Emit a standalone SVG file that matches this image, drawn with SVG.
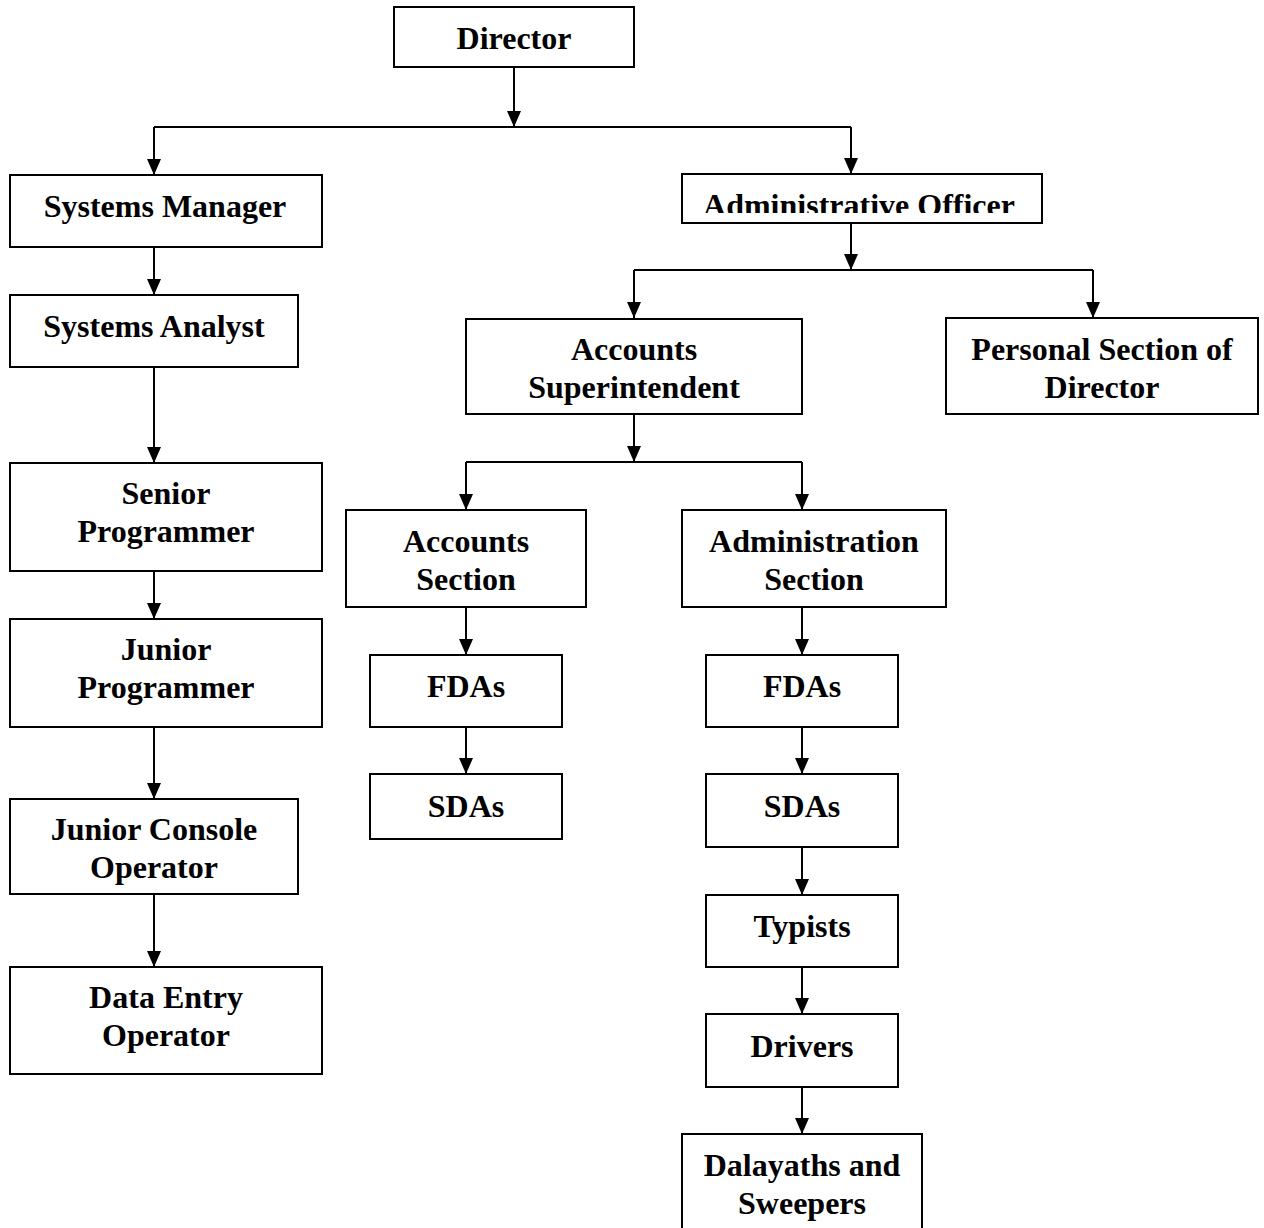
<svg xmlns="http://www.w3.org/2000/svg" width="1264" height="1228" viewBox="0 0 1264 1228">
<style>
.box{fill:#fff;stroke:#000;stroke-width:2}
.t{font-family:"Liberation Serif","Times New Roman",serif;font-weight:bold;font-size:32px;fill:#000;text-anchor:middle}
.c{fill:none;stroke:#000;stroke-width:2}
</style>
<defs>
<marker id="ah" markerUnits="userSpaceOnUse" markerWidth="16" markerHeight="14" refX="16" refY="7" orient="auto">
<path d="M0,0 L16,7 L0,14 z" fill="#000"/>
</marker>
<clipPath id="aoclip"><rect x="682" y="174" width="363" height="39"/></clipPath>
</defs>
<rect width="1264" height="1228" fill="#fff"/>
<g id="connectors">
<path class="c" d="M514,67 V127" marker-end="url(#ah)"/>
<path class="c" d="M154,127 H851"/>
<path class="c" d="M154,127 V175" marker-end="url(#ah)"/>
<path class="c" d="M851,127 V174" marker-end="url(#ah)"/>
<path class="c" d="M154,247 V295" marker-end="url(#ah)"/>
<path class="c" d="M154,367 V463" marker-end="url(#ah)"/>
<path class="c" d="M154,571 V619" marker-end="url(#ah)"/>
<path class="c" d="M154,727 V799" marker-end="url(#ah)"/>
<path class="c" d="M154,894 V967" marker-end="url(#ah)"/>
<path class="c" d="M851,223 V270" marker-end="url(#ah)"/>
<path class="c" d="M634,270 H1093"/>
<path class="c" d="M634,270 V318" marker-end="url(#ah)"/>
<path class="c" d="M1093,270 V318" marker-end="url(#ah)"/>
<path class="c" d="M634,414 V462" marker-end="url(#ah)"/>
<path class="c" d="M466,462 H802"/>
<path class="c" d="M466,462 V510" marker-end="url(#ah)"/>
<path class="c" d="M802,462 V510" marker-end="url(#ah)"/>
<path class="c" d="M466,607 V655" marker-end="url(#ah)"/>
<path class="c" d="M802,607 V655" marker-end="url(#ah)"/>
<path class="c" d="M466,727 V774" marker-end="url(#ah)"/>
<path class="c" d="M802,727 V774" marker-end="url(#ah)"/>
<path class="c" d="M802,847 V895" marker-end="url(#ah)"/>
<path class="c" d="M802,967 V1014" marker-end="url(#ah)"/>
<path class="c" d="M802,1087 V1134" marker-end="url(#ah)"/>
</g>
<g id="director"><rect class="box" x="394" y="7" width="240" height="60"/><text class="t" x="514" y="49">Director</text></g>
<g id="systems-manager"><rect class="box" x="10" y="175" width="312" height="72"/><text class="t" x="165" y="217">Systems Manager</text></g>
<g id="systems-analyst"><rect class="box" x="10" y="295" width="288" height="72"/><text class="t" x="154" y="337">Systems Analyst</text></g>
<g id="senior-programmer"><rect class="box" x="10" y="463" width="312" height="108"/><text class="t" x="166" y="504">Senior</text><text class="t" x="166" y="542">Programmer</text></g>
<g id="junior-programmer"><rect class="box" x="10" y="619" width="312" height="108"/><text class="t" x="166" y="660">Junior</text><text class="t" x="166" y="698">Programmer</text></g>
<g id="junior-console-operator"><rect class="box" x="10" y="799" width="288" height="95"/><text class="t" x="154" y="840">Junior Console</text><text class="t" x="154" y="878">Operator</text></g>
<g id="data-entry-operator"><rect class="box" x="10" y="967" width="312" height="107"/><text class="t" x="166" y="1008">Data Entry</text><text class="t" x="166" y="1046">Operator</text></g>
<g id="administrative-officer"><rect class="box" x="682" y="174" width="360" height="49"/><text class="t" x="859" y="216" clip-path="url(#aoclip)">Administrative Officer</text></g>
<g id="accounts-superintendent"><rect class="box" x="466" y="319" width="336" height="95"/><text class="t" x="634" y="360">Accounts</text><text class="t" x="634" y="398">Superintendent</text></g>
<g id="personal-section"><rect class="box" x="946" y="318" width="312" height="96"/><text class="t" x="1102" y="360">Personal Section of</text><text class="t" x="1102" y="398">Director</text></g>
<g id="accounts-section"><rect class="box" x="346" y="510" width="240" height="97"/><text class="t" x="466" y="552">Accounts</text><text class="t" x="466" y="590">Section</text></g>
<g id="administration-section"><rect class="box" x="682" y="510" width="264" height="97"/><text class="t" x="814" y="552">Administration</text><text class="t" x="814" y="590">Section</text></g>
<g id="fdas-accounts"><rect class="box" x="370" y="655" width="192" height="72"/><text class="t" x="466" y="697">FDAs</text></g>
<g id="sdas-accounts"><rect class="box" x="370" y="774" width="192" height="65"/><text class="t" x="466" y="817">SDAs</text></g>
<g id="fdas-admin"><rect class="box" x="706" y="655" width="192" height="72"/><text class="t" x="802" y="697">FDAs</text></g>
<g id="sdas-admin"><rect class="box" x="706" y="774" width="192" height="73"/><text class="t" x="802" y="817">SDAs</text></g>
<g id="typists"><rect class="box" x="706" y="895" width="192" height="72"/><text class="t" x="802" y="937">Typists</text></g>
<g id="drivers"><rect class="box" x="706" y="1014" width="192" height="73"/><text class="t" x="802" y="1057">Drivers</text></g>
<g id="dalayaths"><rect class="box" x="682" y="1134" width="240" height="110"/><text class="t" x="802" y="1176">Dalayaths and</text><text class="t" x="802" y="1214">Sweepers</text></g>
</svg>
